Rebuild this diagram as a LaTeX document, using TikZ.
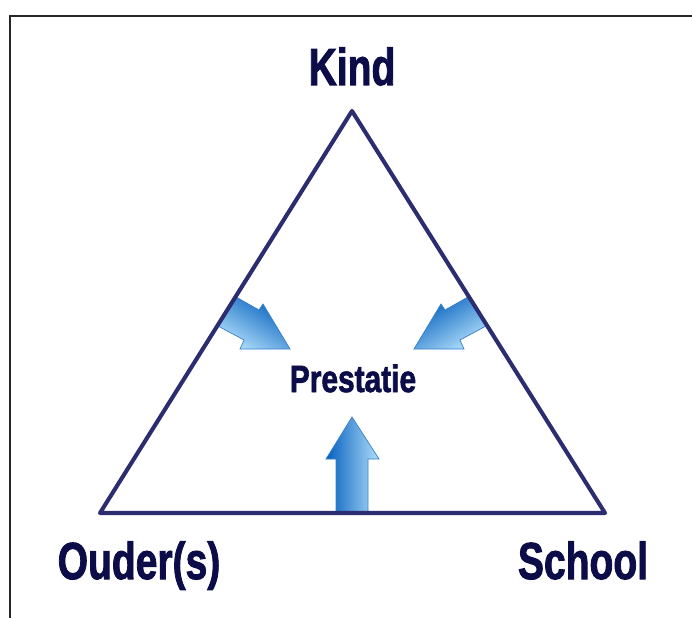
\documentclass[tikz,border=0pt]{standalone}
\usepackage{fontspec}
\setmainfont{Liberation Sans}[BoldFeatures={FakeBold=2}]
\usetikzlibrary{positioning}
\definecolor{navy}{RGB}{44,44,112}
\definecolor{ink}{RGB}{12,12,72}
\definecolor{darkblue}{RGB}{5,95,190}
\definecolor{paleblue}{RGB}{175,222,250}
\tikzset{side/.style={navy,line width=2.9pt,line join=round},
  lbl/.style={ink,font=\fontsize{37}{40}\selectfont\bfseries,xscale=0.75,inner sep=0pt,anchor=base},
  push/.style={draw=darkblue!80!white,line width=0.5pt}}

\begin{document}
\begin{tikzpicture}[x=0.025cm,y=0.025cm]
   \useasboundingbox (0,0) rectangle (692,-618);
   \draw[black!85,line width=0.8pt] (10,-618) -- (10,-16) -- (692,-16);
   \coordinate (top) at (352,-111);
   \coordinate (left) at (100,-513);
   \coordinate (right) at (605,-513);
   \begin{scope}
    \shade[push,top color=darkblue,bottom color=paleblue,shading angle=-32]
      (236,-297) -- (259,-310) -- (263,-304) -- (290,-349) -- (240,-349) -- (244,-340) -- (218,-326) -- cycle;
    \shade[push,top color=darkblue,bottom color=paleblue,shading angle=32]
      (468,-297) -- (445,-310) -- (441,-304) -- (414,-349) -- (464,-349) -- (460,-340) -- (486,-326) -- cycle;
    \shade[push,left color=darkblue,right color=paleblue]
      (352,-417) -- (379,-459) -- (368,-459) -- (368,-513) -- (336,-513) -- (336,-459) -- (326,-459) -- cycle;
   \end{scope}
   \draw[side] (top) -- (right) -- (left) -- cycle;
   \node[lbl] (kind) at (352,-85) {Kind};
   \node[lbl] (ouders) at (139,-579) {Ouder(s)};
   \node[lbl] (school) at (583,-579) {School};
   \node[lbl,font=\fontsize{27}{30}\selectfont\bfseries,xscale=1.05] (prestatie) at (353,-392) {Prestatie};
\end{tikzpicture}
\end{document}
